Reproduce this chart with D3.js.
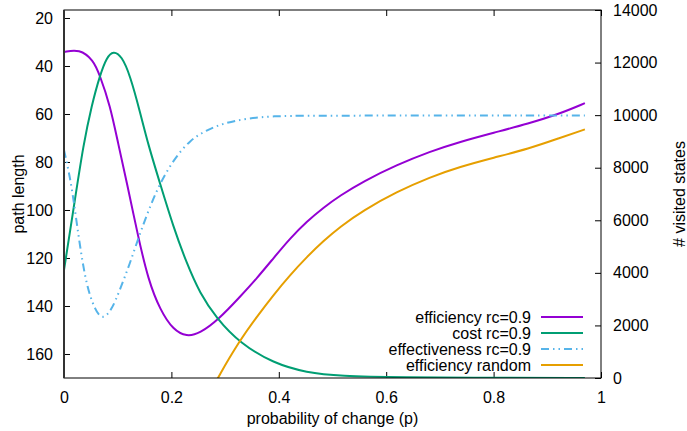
<!DOCTYPE html>
<html>
<head>
<meta charset="utf-8">
<script src="https://cdn.jsdelivr.net/npm/d3@7"></script>
<style>
  body { margin: 0; background: #fff; }
  svg text { font-family: "Liberation Sans", Arial, Helvetica, sans-serif; font-size: 16px; fill: #000; }
</style>
</head>
<body>
<svg id="chart" width="687" height="431"></svg>
<script>
// ---- data ----
const xTicks = [0, 0.2, 0.4, 0.6, 0.8, 1];
const xTickLabels = ["0", "0.2", "0.4", "0.6", "0.8", "1"];
const yLeftTicks = [20, 40, 60, 80, 100, 120, 140, 160];
const yRightTicks = [0, 2000, 4000, 6000, 8000, 10000, 12000, 14000];

// efficiency rc=0.9 (path length, left axis)
const effP = [0, 0.0285, 0.0546, 0.0665, 0.0857, 0.101, 0.117, 0.138, 0.157, 0.179, 0.2035, 0.2285, 0.253, 0.287, 0.328, 0.359, 0.39, 0.421, 0.452, 0.483, 0.514, 0.557, 0.6196, 0.6816, 0.737, 0.80, 0.865, 0.922, 0.97];
const effV = [34.2, 32.9, 37.5, 43.75, 56.25, 72.5, 88.5, 111.1, 129.2, 141.7, 150, 152.8, 151.4, 145.8, 136.1, 128.5, 120.1, 111.8, 104.8, 99, 94, 88.1, 81.2, 75.6, 71.6, 67.8, 64, 60, 55.5];

// cost rc=0.9 (# visited states, right axis)
const costP = [0, 0.0205, 0.036, 0.0516, 0.067, 0.0795, 0.0918, 0.1074, 0.1229, 0.1415, 0.157, 0.1788, 0.2035, 0.2285, 0.253, 0.284, 0.328, 0.39, 0.452, 0.514, 0.626, 0.81, 0.97];
const costV = [4108, 6800, 8863, 10385, 11526, 12200, 12450, 12250, 11526, 10130, 8863, 7406, 5755, 4363, 3222, 2271, 1320, 559, 202, 76, 27, 8, 2];

// effectiveness rc=0.9 (right axis)
const effectP = [0, 0.0112, 0.0205, 0.0298, 0.0423, 0.0577, 0.072, 0.0888, 0.104, 0.1229, 0.1415, 0.160, 0.1788, 0.2035, 0.2346, 0.2657, 0.2966, 0.340, 0.39, 0.452, 0.626, 0.97];
const effectV = [8673, 7658, 6391, 4995, 3473, 2587, 2200, 2587, 3348, 4363, 5504, 6516, 7406, 8293, 9054, 9434, 9689, 9879, 9966, 9978, 9985, 9990];

// efficiency random (path length, left axis)
const randP = [0.27, 0.2873, 0.3277, 0.359, 0.39, 0.421, 0.452, 0.483, 0.514, 0.557, 0.6196, 0.6816, 0.737, 0.80, 0.865, 0.922, 0.97];
const randV = [177, 169.5, 154.2, 144.5, 135.4, 127.1, 119.6, 112.9, 107, 100.2, 92.4, 86.3, 82, 78.2, 74.5, 70.1, 66.4];

const seriesNames = ["efficiency rc=0.9", "cost rc=0.9", "effectiveness rc=0.9", "efficiency random"];

// ---- chart ----
const svg = d3.select("#chart");
const L = 64, R = 601, T = 10, B = 378;

const x = d3.scaleLinear().domain([0, 1]).range([L, R]);
const yL = d3.scaleLinear().domain([16.667, 170]).range([T, B]);
const yR = d3.scaleLinear().domain([0, 14000]).range([B, T]);

svg.append("defs").append("clipPath").attr("id", "clip")
  .append("rect").attr("x", L).attr("y", T).attr("width", R - L).attr("height", B - T);

// axes
const axB = svg.append("g").attr("transform", `translate(0,${B})`)
  .call(d3.axisBottom(x).tickValues(xTicks).tickFormat((d, i) => xTickLabels[i]).tickSizeInner(-6).tickSizeOuter(0).tickPadding(14));
const axT = svg.append("g").attr("transform", `translate(0,${T})`)
  .call(d3.axisTop(x).tickValues(xTicks).tickFormat("").tickSizeInner(-6).tickSizeOuter(0));
const axL = svg.append("g").attr("transform", `translate(${L},0)`)
  .call(d3.axisLeft(yL).tickValues(yLeftTicks).tickSizeInner(-6).tickSizeOuter(0).tickPadding(11));
const axR = svg.append("g").attr("transform", `translate(${R},0)`)
  .call(d3.axisRight(yR).tickValues(yRightTicks).tickFormat(d3.format("d")).tickSizeInner(-6).tickSizeOuter(0).tickPadding(12));

[axB, axT, axL, axR].forEach(g => {
  g.select(".domain").remove();
  g.selectAll("line").attr("stroke", "#000").attr("stroke-width", 1);
  g.selectAll("text").attr("font-size", 16).attr("font-family", '"Liberation Sans", Arial, sans-serif');
});

// series
const lineL = d3.line().x(d => x(d[0])).y(d => yL(d[1])).curve(d3.curveBasis);
const lineR = d3.line().x(d => x(d[0])).y(d => yR(d[1])).curve(d3.curveBasis);

const plot = svg.append("g").attr("clip-path", "url(#clip)");
const series = [
  { name: seriesNames[0], pts: d3.zip(effP, effV), line: lineL, color: "#9400d3", dash: null },
  { name: seriesNames[1], pts: d3.zip(costP, costV), line: lineR, color: "#009e73", dash: null },
  { name: seriesNames[2], pts: d3.zip(effectP, effectV), line: lineR, color: "#56b4e9", dash: "8,4,1.5,4,1.5,4" },
  { name: seriesNames[3], pts: d3.zip(randP, randV), line: lineL, color: "#e69f00", dash: null }
];
series.forEach(s => {
  plot.append("path").attr("d", s.line(s.pts)).attr("fill", "none")
    .attr("stroke", s.color).attr("stroke-width", 2)
    .attr("stroke-dasharray", s.dash);
});

// frame
svg.append("rect").attr("x", L).attr("y", T).attr("width", R - L).attr("height", B - T)
  .attr("fill", "none").attr("stroke", "#000").attr("stroke-width", 1);
svg.append("line").attr("x1", L).attr("x2", L).attr("y1", T).attr("y2", B)
  .attr("stroke", "#333").attr("stroke-width", 2);

// legend
const leg = svg.append("g");
series.forEach((s, i) => {
  const yy = 317 + i * 16;
  leg.append("text").attr("x", 531).attr("y", yy).attr("dy", "0.35em")
    .attr("text-anchor", "end").text(s.name);
  leg.append("line").attr("x1", 541).attr("x2", 583).attr("y1", yy).attr("y2", yy)
    .attr("stroke", s.color).attr("stroke-width", 2).attr("stroke-dasharray", s.dash);
});

// axis titles
svg.append("text").attr("transform", `translate(18,${(T + B) / 2}) rotate(-90)`)
  .attr("text-anchor", "middle").attr("dy", "0.35em").text("path length");
svg.append("text").attr("transform", `translate(679,${(T + B) / 2}) rotate(-90)`)
  .attr("text-anchor", "middle").attr("dy", "0.35em").text("# visited states");
svg.append("text").attr("x", (L + R) / 2).attr("y", 418).attr("dy", "0.35em")
  .attr("text-anchor", "middle").text("probability of change (p)");
</script>
</body>
</html>
